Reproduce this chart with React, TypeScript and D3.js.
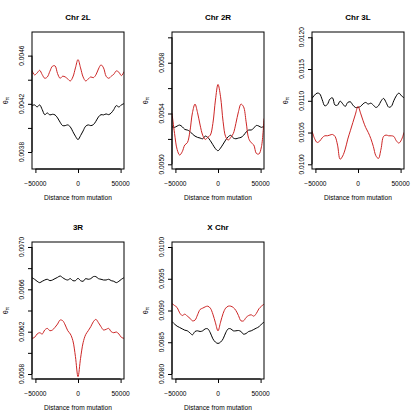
import * as d3 from "d3";
import React, { useRef, useEffect } from "react";

// distance from mutation (bp)
const xs = [-54000, -51000, -48000, -45000, -42000, -39000, -36000, -33000, -30000, -27000, -24000, -21000, -18000,
  -15000, -12000, -9000, -6000, -3000, 0, 3000, 6000, 9000, 12000, 15000, 18000, 21000, 24000, 27000, 30000, 33000,
  36000, 39000, 42000, 45000, 48000, 51000, 54000];

const xTicks = [-50000, 0, 50000];

const chr2L_red = [0.004476, 0.004440, 0.004456, 0.004478, 0.004442, 0.004412, 0.004423, 0.004470, 0.004512, 0.004515,
  0.004451, 0.004412, 0.004429, 0.004423, 0.004406, 0.004390, 0.004423, 0.004498, 0.004567, 0.004498, 0.004423,
  0.004390, 0.004406, 0.004423, 0.004417, 0.004440, 0.004489, 0.004523, 0.004498, 0.004429, 0.004412, 0.004429,
  0.004445, 0.004473, 0.004462, 0.004434, 0.004467];
const chr2L_black = [0.004185, 0.004191, 0.004174, 0.004191, 0.004152, 0.004110, 0.004124, 0.004108, 0.004113, 0.004108,
  0.004083, 0.004047, 0.004019, 0.004019, 0.004025, 0.004008, 0.003969, 0.003931, 0.003903, 0.003936, 0.003975,
  0.004014, 0.004025, 0.004019, 0.004027, 0.004055, 0.004091, 0.004110, 0.004108, 0.004116, 0.004110, 0.004124,
  0.004152, 0.004185, 0.004174, 0.004191, 0.004202];

const chr2R_red = [0.005401, 0.005243, 0.005117, 0.005073, 0.005099, 0.005152, 0.005170, 0.005257, 0.005406, 0.005474,
  0.005406, 0.005309, 0.005230, 0.005196, 0.005212, 0.005230, 0.005322, 0.005506, 0.005629, 0.005532, 0.005335,
  0.005217, 0.005191, 0.005212, 0.005243, 0.005322, 0.005414, 0.005474, 0.005453, 0.005335, 0.005204, 0.005170,
  0.005152, 0.005086, 0.005081, 0.005138, 0.005360];
const chr2R_black = [0.005296, 0.005291, 0.005301, 0.005309, 0.005296, 0.005275, 0.005270, 0.005259, 0.005238, 0.005222,
  0.005212, 0.005207, 0.005201, 0.005222, 0.005212, 0.005186, 0.005154, 0.005123, 0.005107, 0.005128, 0.005159,
  0.005191, 0.005217, 0.005228, 0.005207, 0.005201, 0.005207, 0.005212, 0.005228, 0.005254, 0.005270, 0.005270,
  0.005285, 0.005306, 0.005301, 0.005291, 0.005301];

const chr3L_red = [0.010523, 0.010407, 0.010344, 0.010365, 0.010418, 0.010449, 0.010449, 0.010460, 0.010470, 0.010439,
  0.010302, 0.010080, 0.010130, 0.010239, 0.010397, 0.010528, 0.010659, 0.010790, 0.010911, 0.010806, 0.010685,
  0.010580, 0.010502, 0.010407, 0.010281, 0.010134, 0.010092, 0.010239, 0.010439, 0.010460, 0.010449, 0.010449,
  0.010439, 0.010370, 0.010334, 0.010386, 0.010502];
const chr3L_black = [0.011037, 0.011089, 0.011121, 0.011110, 0.011016, 0.010921, 0.010942, 0.011026, 0.011047, 0.010932,
  0.010932, 0.010995, 0.010953, 0.010911, 0.010974, 0.010984, 0.010932, 0.010895, 0.010895, 0.010911, 0.010953,
  0.010974, 0.010948, 0.010963, 0.010932, 0.010895, 0.010921, 0.010995, 0.011037, 0.010974, 0.010900, 0.010911,
  0.011000, 0.011079, 0.011121, 0.011079, 0.011047];

const chr3R_red = [0.006137, 0.006146, 0.006178, 0.006190, 0.006178, 0.006216, 0.006231, 0.006209, 0.006216, 0.006241,
  0.006272, 0.006310, 0.006304, 0.006263, 0.006209, 0.006178, 0.006115, 0.005964, 0.005775, 0.005948, 0.006096,
  0.006172, 0.006209, 0.006247, 0.006294, 0.006316, 0.006285, 0.006247, 0.006216, 0.006222, 0.006231, 0.006200,
  0.006190, 0.006197, 0.006178, 0.006146, 0.006137];
const chr3R_black = [0.006710, 0.006695, 0.006676, 0.006663, 0.006676, 0.006688, 0.006695, 0.006682, 0.006688, 0.006701,
  0.006713, 0.006726, 0.006710, 0.006695, 0.006688, 0.006701, 0.006682, 0.006682, 0.006704, 0.006682, 0.006676,
  0.006701, 0.006695, 0.006701, 0.006720, 0.006720, 0.006701, 0.006695, 0.006688, 0.006688, 0.006695, 0.006682,
  0.006676, 0.006663, 0.006676, 0.006695, 0.006710];

const chrX_red = [0.009110, 0.009079, 0.009047, 0.008963, 0.008921, 0.008942, 0.008911, 0.008879, 0.008837, 0.008848,
  0.008932, 0.009016, 0.009037, 0.009058, 0.009068, 0.009037, 0.008942, 0.008806, 0.008680, 0.008816, 0.008953,
  0.009037, 0.009068, 0.009068, 0.009047, 0.009000, 0.008921, 0.008837, 0.008837, 0.008890, 0.008921, 0.008932,
  0.008911, 0.008953, 0.009026, 0.009068, 0.009100];
const chrX_black = [0.008827, 0.008785, 0.008753, 0.008732, 0.008711, 0.008690, 0.008680, 0.008648, 0.008617, 0.008669,
  0.008680, 0.008669, 0.008680, 0.008711, 0.008711, 0.008648, 0.008554, 0.008502, 0.008481, 0.008502, 0.008554,
  0.008648, 0.008711, 0.008711, 0.008680, 0.008680, 0.008685, 0.008669, 0.008627, 0.008638, 0.008669, 0.008680,
  0.008701, 0.008722, 0.008743, 0.008785, 0.008816];

const panels = [
  { id: "p2L", title: "Chr 2L", dx: 0, dy: 0, red: chr2L_red, black: chr2L_black,
    ydom: [0.003659, 0.004796], yticks: [0.0038, 0.0040, 0.0042, 0.0044, 0.0046], ylabs: [0.0038, 0.0042, 0.0046] },
  { id: "p2R", title: "Chr 2R", dx: 140, dy: 0, red: chr2R_red, black: chr2R_black,
    ydom: [0.004963, 0.006042], yticks: [0.0050, 0.0052, 0.0054, 0.0056, 0.0058, 0.0060], ylabs: [0.0050, 0.0054, 0.0058] },
  { id: "p3L", title: "Chr 3L", dx: 280, dy: 0, red: chr3L_red, black: chr3L_black,
    ydom: [0.009926, 0.012083], yticks: [0.0100, 0.0105, 0.0110, 0.0115, 0.0120], ylabs: [0.0100, 0.0105, 0.0110, 0.0115, 0.0120] },
  { id: "p3R", title: "3R", dx: 0, dy: 210, red: chr3R_red, black: chr3R_black,
    ydom: [0.005753, 0.007047], yticks: [0.0058, 0.0060, 0.0062, 0.0064, 0.0066, 0.0068, 0.0070], ylabs: [0.0058, 0.0062, 0.0066, 0.0070] },
  { id: "pX", title: "X Chr", dx: 140, dy: 210, red: chrX_red, black: chrX_black,
    ydom: [0.007921, 0.010079], yticks: [0.0080, 0.0085, 0.0090, 0.0095, 0.0100], ylabs: [0.0080, 0.0085, 0.0090, 0.0095, 0.0100] },
];

const font = "'Liberation Sans', Arial, Helvetica, sans-serif";

function Panel({ p }) {
  const gRef = useRef();
  const left = 32, right = 124, top = 32, bottom = 169;

  useEffect(() => {
    const g = d3.select(gRef.current);
    g.selectAll("*").remove();

    const x = d3.scaleLinear().domain([-54000, 54000]).range([left, right]);
    const y = d3.scaleLinear().domain(p.ydom).range([bottom, top]);
    const fmt = d3.format(".4f");

    g.append("clipPath").attr("id", "clip-" + p.id)
      .append("rect").attr("x", left).attr("y", top).attr("width", right - left).attr("height", bottom - top);

    const line = d3.line().x((d) => x(d[0])).y((d) => y(d[1])).curve(d3.curveCatmullRom.alpha(0.5));

    g.append("path")
      .datum(xs.map((v, i) => [v, p.black[i]]))
      .attr("d", line)
      .attr("clip-path", `url(#clip-${p.id})`)
      .attr("fill", "none").attr("stroke", "#000").attr("stroke-width", 1);

    g.append("path")
      .datum(xs.map((v, i) => [v, p.red[i]]))
      .attr("d", line)
      .attr("clip-path", `url(#clip-${p.id})`)
      .attr("fill", "none").attr("stroke", "#cd2626").attr("stroke-width", 1);

    // box
    g.append("rect")
      .attr("x", left).attr("y", top).attr("width", right - left).attr("height", bottom - top)
      .attr("fill", "none").attr("stroke", "#000").attr("stroke-width", 1);

    // x axis
    const xa = g.append("g").attr("transform", `translate(0, ${bottom})`)
      .call(d3.axisBottom(x).tickValues(xTicks).tickSize(4).tickFormat(() => ""));
    xa.select(".domain").attr("d", `M${x(xTicks[0])},0H${x(xTicks[2])}`);
    xa.selectAll("line").attr("stroke-width", 1);

    g.selectAll(".xlab").data(xTicks).enter().append("text")
      .attr("x", (d) => x(d)).attr("y", 185.5)
      .attr("text-anchor", "middle")
      .style("font-family", font).style("font-size", "6.6px")
      .text((d) => (d < 0 ? "\u2212" + Math.abs(d) : String(d)));

    // y axis
    const ya = g.append("g").attr("transform", `translate(${left}, 0)`)
      .call(d3.axisLeft(y).tickValues(p.yticks).tickSize(4).tickFormat(() => ""));
    ya.select(".domain").attr("d", `M0,${y(p.yticks[0])}V${y(p.yticks[p.yticks.length - 1])}`);

    g.selectAll(".ylab").data(p.ylabs).enter().append("text")
      .attr("transform", (d) => `translate(23.6, ${y(d)}) rotate(-90)`)
      .attr("text-anchor", "middle")
      .style("font-family", font).style("font-size", "6.6px")
      .text((d) => fmt(d));

    // labels
    g.append("text")
      .attr("x", (left + right) / 2).attr("y", 20)
      .attr("text-anchor", "middle")
      .style("font-family", font).style("font-size", "8px").style("font-weight", "bold")
      .text(p.title);

    g.append("text")
      .attr("x", (left + right) / 2).attr("y", 199.5)
      .attr("text-anchor", "middle")
      .style("font-family", font).style("font-size", "6.6px")
      .text("Distance from mutation");

    const yl = g.append("text")
      .attr("transform", `translate(7.5, ${(top + bottom) / 2}) rotate(-90)`)
      .attr("text-anchor", "middle")
      .style("font-family", font).style("font-size", "6.6px");
    yl.append("tspan").text("\u03b8");
    yl.append("tspan").attr("dy", 1.8).style("font-size", "4.8px").text("\u03c0");
  }, [p]);

  return <g ref={gRef} transform={`translate(${p.dx}, ${p.dy})`} />;
}

export default function App() {
  return (
    <svg width={420} height={420} style={{ position: "absolute", left: 0, top: 0, background: "#fff" }}>
      {panels.map((p) => (
        <Panel key={p.id} p={p} />
      ))}
    </svg>
  );
}
